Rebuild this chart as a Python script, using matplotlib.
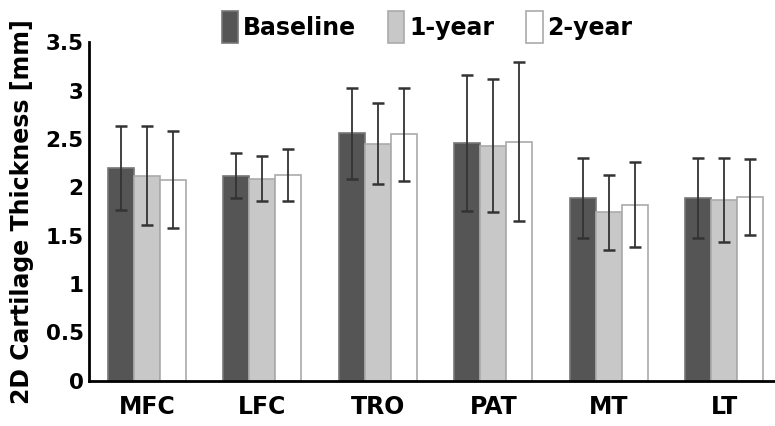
import numpy as np
import matplotlib
matplotlib.use('Agg')
import matplotlib.pyplot as plt

plt.rcParams['font.family'] = ['DejaVu Sans']
plt.rcParams['font.weight'] = 'bold'

regions = ['MFC', 'LFC', 'TRO', 'PAT', 'MT', 'LT']
series = ['Baseline', '1-year', '2-year']

# mean thickness [mm]
baseline = [2.20, 2.12, 2.56, 2.46, 1.89, 1.89]
year1 = [2.12, 2.09, 2.45, 2.43, 1.74, 1.87]
year2 = [2.08, 2.13, 2.55, 2.47, 1.82, 1.90]

# standard deviations
baseline_sd = [0.43, 0.23, 0.47, 0.70, 0.41, 0.41]
year1_sd = [0.51, 0.23, 0.42, 0.69, 0.39, 0.43]
year2_sd = [0.50, 0.27, 0.48, 0.82, 0.44, 0.39]

means = [baseline, year1, year2]
sds = [baseline_sd, year1_sd, year2_sd]
face = ['#555555', '#c8c8c8', '#ffffff']
edge = ['#777777', '#aaaaaa', '#aaaaaa']

fig = plt.figure(figsize=(7.75, 4.26), dpi=100)
ax = fig.add_axes([0.115, 0.106, 0.885, 0.795])

x = np.arange(len(regions))
w = 0.225
for i in range(3):
    ax.bar(x + (i - 1) * w, means[i], w, color=face[i], edgecolor=edge[i],
           linewidth=1.2, label=series[i],
           yerr=sds[i], capsize=4.5,
           error_kw=dict(ecolor='#333333', elinewidth=1.3, capthick=1.8))

ax.set_xlim(-0.5, 5.44)
ax.set_ylim(0, 3.5)
ax.set_yticks([0, 0.5, 1, 1.5, 2, 2.5, 3, 3.5])
ax.set_yticklabels(['0', '0.5', '1', '1.5', '2', '2.5', '3', '3.5'])
ax.set_xticks(x)
ax.set_xticklabels(regions)
ax.tick_params(axis='y', length=0, labelsize=15.5, pad=4)
ax.tick_params(axis='x', length=0, labelsize=17, pad=10)
for s in ['top', 'right']:
    ax.spines[s].set_visible(False)
for s in ['left', 'bottom']:
    ax.spines[s].set_linewidth(2)
ax.set_ylabel('2D Cartilage Thickness [mm]', fontsize=17, fontweight='bold', labelpad=8)

fig.legend(loc='upper center', bbox_to_anchor=(0.551, 1.025), ncol=3, frameon=False,
           fontsize=17, handlelength=0.7, handleheight=1.75, handletextpad=0.2,
           columnspacing=1.35)

fig.savefig('out.png', dpi=100)
